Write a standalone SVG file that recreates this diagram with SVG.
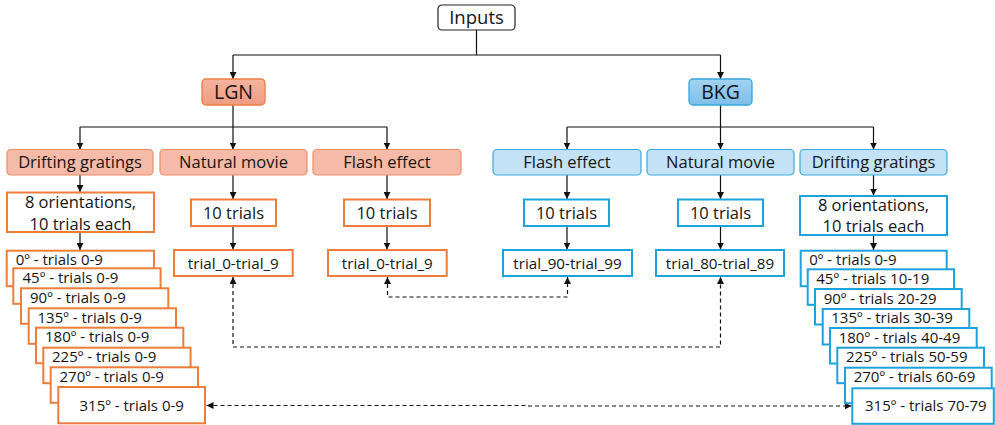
<svg xmlns="http://www.w3.org/2000/svg" width="995" height="425" viewBox="0 0 995 425">
  <defs>
    <linearGradient id="gLgn" x1="0" y1="0" x2="0" y2="1">
      <stop offset="0" stop-color="#f6b4a0"/>
      <stop offset="1" stop-color="#ee9c81"/>
    </linearGradient>
    <linearGradient id="gBkg" x1="0" y1="0" x2="0" y2="1">
      <stop offset="0" stop-color="#a2d3f1"/>
      <stop offset="1" stop-color="#7cbfea"/>
    </linearGradient>
    <marker id="arr" viewBox="0 0 10 10" refX="10" refY="5" markerWidth="7" markerHeight="7" markerUnits="userSpaceOnUse" orient="auto-start-reverse">
      <path d="M0,0 L10,5 L0,10 Z" fill="#111"/>
    </marker>
    <style>
      text { font-family: "Open Sans", "Liberation Sans", sans-serif; fill: #151515; }
      .t17 { font-size: 18.5px; text-anchor: middle; }
      .t19 { font-size: 19.5px; text-anchor: middle; }
      .t16 { font-size: 16.5px; text-anchor: middle; }
      .t14 { font-size: 15.2px; text-anchor: middle; }
      .st { font-size: 15px; }
      .stc { font-size: 15px; text-anchor: middle; }
      .root { fill: #fff; stroke: #222; stroke-width: 1.2; }
      .lgn { fill: url(#gLgn); stroke: #ee7d45; stroke-width: 1.3; }
      .bkg { fill: url(#gBkg); stroke: #35a6df; stroke-width: 1.3; }
      .lgn2 { fill: #f5bba8; stroke: #ee8c64; stroke-width: 1.2; }
      .bkg2 { fill: #c3e2f5; stroke: #3aa8df; stroke-width: 1.2; }
      .ob { fill: #fff; stroke: #ee7d3a; stroke-width: 2; }
      .bb { fill: #fff; stroke: #1ca3dc; stroke-width: 2; }
      .wire { fill: none; stroke: #111; stroke-width: 1.2; }
      .dash { fill: none; stroke: #111; stroke-width: 1.2; stroke-dasharray: 4 3; }
    </style>
  </defs>

  <!-- connectors -->
  <g id="connectors">
    <path class="wire" d="M476.5,30 V55 M233,55 H720.5"/>
    <path class="wire" marker-end="url(#arr)" d="M233,55 V79"/>
    <path class="wire" marker-end="url(#arr)" d="M720.5,55 V79"/>

    <path class="wire" d="M233,105 V127 M80,127 H387"/>
    <path class="wire" marker-end="url(#arr)" d="M80,127 V149.5"/>
    <path class="wire" marker-end="url(#arr)" d="M233,127 V149.5"/>
    <path class="wire" marker-end="url(#arr)" d="M387,127 V149.5"/>
    <path class="wire" d="M720.5,105 V127 M567,127 H873.5"/>
    <path class="wire" marker-end="url(#arr)" d="M567,127 V149.5"/>
    <path class="wire" marker-end="url(#arr)" d="M720.5,127 V149.5"/>
    <path class="wire" marker-end="url(#arr)" d="M873.5,127 V149.5"/>

    <path class="wire" marker-end="url(#arr)" d="M80,175 V192"/>
    <path class="wire" marker-end="url(#arr)" d="M233,175 V199"/>
    <path class="wire" marker-end="url(#arr)" d="M387,175 V199"/>
    <path class="wire" marker-end="url(#arr)" d="M567,175 V199"/>
    <path class="wire" marker-end="url(#arr)" d="M720.5,175 V199"/>
    <path class="wire" marker-end="url(#arr)" d="M873.5,175 V195.5"/>

    <path class="wire" marker-end="url(#arr)" d="M80,232 V250"/>
    <path class="wire" marker-end="url(#arr)" d="M233,226 V249.5"/>
    <path class="wire" marker-end="url(#arr)" d="M387,226 V249.5"/>
    <path class="wire" marker-end="url(#arr)" d="M567,226 V249.5"/>
    <path class="wire" marker-end="url(#arr)" d="M720.5,226 V249.5"/>
    <path class="wire" marker-end="url(#arr)" d="M873.5,235 V250"/>

    <!-- paired trial links -->
    <path class="dash" marker-start="url(#arr)" marker-end="url(#arr)" d="M233,277 V347 H720.5 V277"/>
    <path class="dash" marker-start="url(#arr)" marker-end="url(#arr)" d="M387.5,277 V297 H567.5 V277"/>
    <path class="dash" marker-start="url(#arr)" marker-end="url(#arr)" d="M206.5,405.5 H528 V406 H851.5"/>
  </g>

  <g id="inputs">
    <rect class="root" x="438" y="5" width="77" height="25" rx="4"/>
    <text class="t17" x="476.5" y="24">Inputs</text>
  </g>

  <g id="lgn">
    <rect class="lgn" x="202" y="79" width="63" height="26" rx="4"/>
    <text class="t19" x="233.5" y="98.8">LGN</text>
  </g>
  <g id="bkg">
    <rect class="bkg" x="689" y="79" width="63" height="26" rx="4"/>
    <text class="t19" x="720.5" y="98.8">BKG</text>
  </g>

  <!-- LGN stimulus types -->
  <g id="lgn-drifting">
    <rect class="lgn2" x="7" y="149.5" width="146" height="25.5" rx="4"/>
    <text class="t16" x="80" y="168.3">Drifting gratings</text>
  </g>
  <g id="lgn-natural">
    <rect class="lgn2" x="160" y="149.5" width="147" height="25.5" rx="4"/>
    <text class="t16" x="233.5" y="168.3">Natural movie</text>
  </g>
  <g id="lgn-flash">
    <rect class="lgn2" x="313" y="149.5" width="148" height="25.5" rx="4"/>
    <text class="t16" x="387" y="168.3">Flash effect</text>
  </g>

  <!-- BKG stimulus types -->
  <g id="bkg-flash">
    <rect class="bkg2" x="493" y="149.5" width="148" height="25.5" rx="4"/>
    <text class="t16" x="567" y="168.3">Flash effect</text>
  </g>
  <g id="bkg-natural">
    <rect class="bkg2" x="647" y="149.5" width="147" height="25.5" rx="4"/>
    <text class="t16" x="720.5" y="168.3">Natural movie</text>
  </g>
  <g id="bkg-drifting">
    <rect class="bkg2" x="800" y="149.5" width="147" height="25.5" rx="4"/>
    <text class="t16" x="873.5" y="168.3">Drifting gratings</text>
  </g>

  <!-- trial counts -->
  <g id="lgn-drifting-count">
    <rect class="ob" x="7" y="192.5" width="147" height="39.5"/>
    <text class="t16" x="80.5" y="208.3">8 orientations,</text>
    <text class="t16" x="80.5" y="229.5">10 trials each</text>
  </g>
  <g id="lgn-natural-count">
    <rect class="ob" x="191" y="199.5" width="85" height="26.5"/>
    <text class="t16" x="233.5" y="218.7">10 trials</text>
  </g>
  <g id="lgn-flash-count">
    <rect class="ob" x="344" y="199.5" width="86" height="26.5"/>
    <text class="t16" x="387" y="218.7">10 trials</text>
  </g>
  <g id="bkg-flash-count">
    <rect class="bb" x="524" y="199.5" width="85" height="26.5"/>
    <text class="t16" x="566.5" y="218.7">10 trials</text>
  </g>
  <g id="bkg-natural-count">
    <rect class="bb" x="678" y="199.5" width="85" height="26.5"/>
    <text class="t16" x="720.5" y="218.7">10 trials</text>
  </g>
  <g id="bkg-drifting-count">
    <rect class="bb" x="800" y="196" width="147" height="39"/>
    <text class="t16" x="873.5" y="211">8 orientations,</text>
    <text class="t16" x="873.5" y="232">10 trials each</text>
  </g>

  <!-- trial ranges -->
  <g id="lgn-natural-range">
    <rect class="ob" x="174" y="250" width="118.7" height="26"/>
    <text class="t14" x="233.3" y="268.5">trial_0-trial_9</text>
  </g>
  <g id="lgn-flash-range">
    <rect class="ob" x="328" y="250" width="118.7" height="26"/>
    <text class="t14" x="387.3" y="268.5">trial_0-trial_9</text>
  </g>
  <g id="bkg-flash-range">
    <rect class="bb" x="503" y="250" width="129" height="26"/>
    <text class="t14" x="567.5" y="268.5">trial_90-trial_99</text>
  </g>
  <g id="bkg-natural-range">
    <rect class="bb" x="656" y="250" width="128" height="26"/>
    <text class="t14" x="720" y="268.5">trial_80-trial_89</text>
  </g>

  <!-- LGN orientation stack -->
  <g id="lgn-o0"><rect class="ob" x="6.7" y="250.7" width="147.3" height="35.5"/><text class="st" x="15.7" y="264.8">0º - trials 0-9</text></g>
  <g id="lgn-o45"><rect class="ob" x="13.3" y="268.3" width="147.3" height="35.5"/><text class="st" x="22.5" y="282.8">45º - trials 0-9</text></g>
  <g id="lgn-o90"><rect class="ob" x="21" y="288.3" width="147.3" height="35.5"/><text class="st" x="30" y="302.8">90º - trials 0-9</text></g>
  <g id="lgn-o135"><rect class="ob" x="28.7" y="308.3" width="147.3" height="35.5"/><text class="st" x="37.5" y="322.8">135º - trials 0-9</text></g>
  <g id="lgn-o180"><rect class="ob" x="36" y="327.7" width="147.3" height="35.5"/><text class="st" x="45" y="342.1">180º - trials 0-9</text></g>
  <g id="lgn-o225"><rect class="ob" x="43.3" y="347.7" width="147.3" height="35.5"/><text class="st" x="52" y="362.1">225º - trials 0-9</text></g>
  <g id="lgn-o270"><rect class="ob" x="50.7" y="367.3" width="147.3" height="35.5"/><text class="st" x="59.5" y="381.8">270º - trials 0-9</text></g>
  <g id="lgn-o315"><rect class="ob" x="58.3" y="387" width="146.7" height="36.3"/><text class="stc" x="131.7" y="410.9">315º - trials 0-9</text></g>

  <!-- BKG orientation stack -->
  <g id="bkg-o0"><rect class="bb" x="800.7" y="250.7" width="146" height="35.5"/><text class="st" x="809.3" y="264.8">0º - trials 0-9</text></g>
  <g id="bkg-o45"><rect class="bb" x="807.7" y="269.3" width="146.3" height="35.5"/><text class="st" x="816.3" y="283.8">45º - trials 10-19</text></g>
  <g id="bkg-o90"><rect class="bb" x="815" y="289" width="146.7" height="35.5"/><text class="st" x="823.7" y="303.5">90º - trials 20-29</text></g>
  <g id="bkg-o135"><rect class="bb" x="822.7" y="309" width="146.6" height="35.5"/><text class="st" x="831.3" y="323.3">135º - trials 30-39</text></g>
  <g id="bkg-o180"><rect class="bb" x="830" y="328" width="146.7" height="35.5"/><text class="st" x="838.7" y="342.5">180º - trials 40-49</text></g>
  <g id="bkg-o225"><rect class="bb" x="837.3" y="347.7" width="146.7" height="35.5"/><text class="st" x="846" y="362.1">225º - trials 50-59</text></g>
  <g id="bkg-o270"><rect class="bb" x="845" y="367.7" width="146.7" height="35.5"/><text class="st" x="853.7" y="382.1">270º - trials 60-69</text></g>
  <g id="bkg-o315"><rect class="bb" x="852.3" y="388.3" width="141.5" height="35.5"/><text class="stc" x="925.8" y="411.2">315º - trials 70-79</text></g>
</svg>
